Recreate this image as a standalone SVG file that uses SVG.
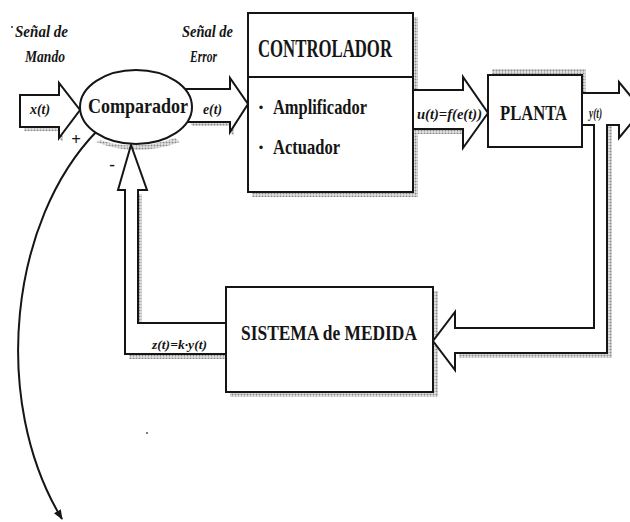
<svg xmlns="http://www.w3.org/2000/svg" width="630" height="522" viewBox="0 0 630 522">
<style>
.ln{fill:#fff;stroke:#151515;stroke-width:2;stroke-linejoin:miter}
.op{fill:none;stroke:#151515;stroke-width:2}
.sh{fill:url(#dots);stroke:none}
.t{font-family:"Liberation Serif","Times New Roman",serif;font-weight:bold;fill:#151515}
.it{font-family:"Liberation Serif","Times New Roman",serif;font-weight:bold;font-style:italic;fill:#151515}
</style>
<defs>
<pattern id="dots" width="3" height="3" patternUnits="userSpaceOnUse">
<rect width="3" height="3" fill="#e4e4e4"/>
<circle cx="1.5" cy="1.5" r="1" fill="#8a8a8a"/>
</pattern>
<marker id="ah" markerWidth="10" markerHeight="10" refX="9" refY="5" orient="auto" markerUnits="userSpaceOnUse">
<path d="M0,1 L10,5 L0,9 Z" fill="#151515"/>
</marker>
</defs>
<rect width="630" height="522" fill="#fff"/>

<text class="it" x="15" y="37" font-size="16" textLength="53" lengthAdjust="spacingAndGlyphs">Señal de</text>
<circle cx="12" cy="27" r="1" fill="#333"/>
<text class="it" x="25" y="62" font-size="16" textLength="40" lengthAdjust="spacingAndGlyphs">Mando</text>
<text class="it" x="182" y="37" font-size="16" textLength="51" lengthAdjust="spacingAndGlyphs">Señal de</text>
<text class="it" x="190" y="62" font-size="16" textLength="27" lengthAdjust="spacingAndGlyphs">Error</text>

<g id="shadows">
<path class="sh" d="M24,127 L63,127 L63,142 L59,138 L59,131 L24,131 Z"/>
<path class="sh" d="M100,140 Q136,152 175,138 L180,142 Q136,158 96,142 Z"/>
<path class="sh" d="M190,122 L230,122 L230,132 L234,136 L234,126 L192,126 Z"/>
<rect class="sh" x="413" y="17" width="5" height="179"/>
<rect class="sh" x="252" y="192" width="166" height="5"/>
<rect class="sh" x="417" y="129" width="46" height="5"/>
<rect class="sh" x="492" y="69" width="94" height="6"/>
<rect class="sh" x="582" y="69" width="4" height="56"/>
<rect class="sh" x="607" y="125" width="5" height="232"/>
<rect class="sh" x="459" y="353" width="153" height="5"/>
<rect class="sh" x="138" y="194" width="4" height="129"/>
<rect class="sh" x="129" y="354" width="97" height="5"/>
<rect class="sh" x="433" y="291" width="5" height="105"/>
<rect class="sh" x="230" y="392" width="208" height="5"/>
</g>

<g id="connectors">
<path class="ln" d="M20,95 L59,95 L59,83 L80,110 L59,138 L59,127 L20,127 Z"/>
<path class="ln" d="M185,89 L230,89 L230,78 L248,104 L230,132 L230,122 L187,122"/>
<path class="ln" d="M413,90 L463,90 L463,77 L488,113 L463,148 L463,129 L413,129"/>
<path class="ln" d="M582,93 L619,93 L619,82 L642,110 L619,138 L619,125 L607,125 L607,353 L455,353 L455,370 L433,341 L455,312 L455,328 L594,328 L594,125 L582,125"/>
<path class="ln" d="M226,323 L138,323 L138,190 L147,190 L131,145 L118,190 L125,190 L125,354 L226,354"/>
<path class="op" d="M97,131 C10,220 -10,400 62,519" marker-end="url(#ah)"/>
<text class="it" x="30" y="114" font-size="15" textLength="20" lengthAdjust="spacingAndGlyphs">x(t)</text>
<text class="it" x="203" y="114" font-size="15" textLength="19" lengthAdjust="spacingAndGlyphs">e(t)</text>
<text class="it" x="417" y="119" font-size="15" textLength="65" lengthAdjust="spacingAndGlyphs">u(t)=f(e(t))</text>
<text class="it" x="589" y="118" font-size="14" textLength="13" lengthAdjust="spacingAndGlyphs">y(t)</text>
<text class="it" x="152" y="349" font-size="13" textLength="55" lengthAdjust="spacingAndGlyphs">z(t)=k·y(t)</text>
<text class="t" x="76" y="145" font-size="17" text-anchor="middle">+</text>
<text class="t" x="112" y="170" font-size="17" text-anchor="middle">-</text>
</g>

<g id="comparador">
<ellipse class="ln" cx="136" cy="107" rx="56" ry="37"/>
<text class="t" x="88" y="113" font-size="20" textLength="100" lengthAdjust="spacingAndGlyphs">Comparador</text>
</g>

<g id="controlador">
<rect class="ln" x="248" y="13" width="165" height="179"/>
<line class="op" x1="248" y1="77" x2="413" y2="77"/>
<text class="t" x="258" y="57" font-size="25" textLength="134" lengthAdjust="spacingAndGlyphs">CONTROLADOR</text>
<text class="t" x="261" y="114" font-size="21" text-anchor="middle">·</text>
<text class="t" x="273" y="114" font-size="21" textLength="94" lengthAdjust="spacingAndGlyphs">Amplificador</text>
<text class="t" x="261" y="154" font-size="21" text-anchor="middle">·</text>
<text class="t" x="273" y="154" font-size="21" textLength="67" lengthAdjust="spacingAndGlyphs">Actuador</text>
</g>

<g id="planta">
<rect class="ln" x="488" y="75" width="94" height="72"/>
<text class="t" x="500" y="120" font-size="20" textLength="67" lengthAdjust="spacingAndGlyphs">PLANTA</text>
</g>

<g id="sistema">
<rect class="ln" x="226" y="287" width="207" height="105"/>
<text class="t" x="241" y="340" font-size="20" textLength="176" lengthAdjust="spacingAndGlyphs">SISTEMA de MEDIDA</text>
</g>

<circle cx="147" cy="433" r="1" fill="#555"/>
</svg>
